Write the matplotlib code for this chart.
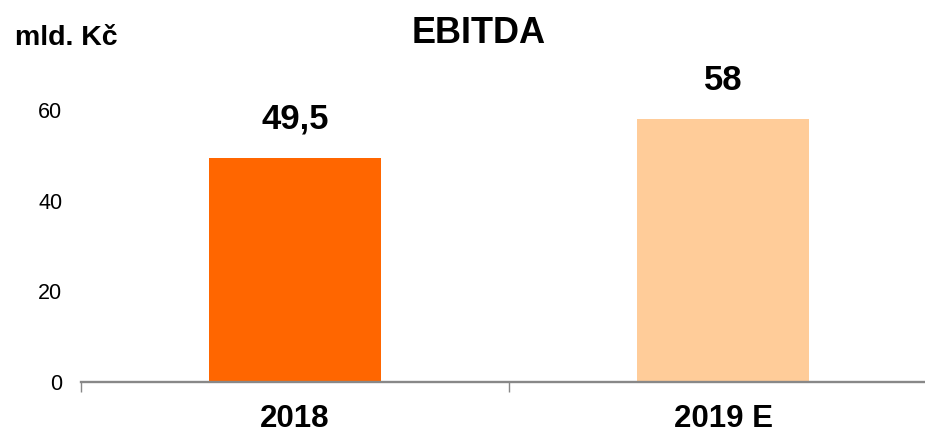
import matplotlib
matplotlib.use("Agg")
import matplotlib.pyplot as plt
from matplotlib.ticker import FixedLocator

plt.rcParams['font.family'] = ['Liberation Sans', 'DejaVu Sans']

categories = ["2018", "2019 E"]
values = [49.5, 58]
value_labels = ["49,5", "58"]
colors = ["#FF6600", "#FFCC99"]
yticks = [0, 20, 40, 60]
title = "EBITDA"
unit_label = "mld. Kč"

fig = plt.figure(figsize=(9.25, 4.34), dpi=100)
ax = fig.add_axes([81 / 925, 52 / 434, 856 / 925, 317.2 / 434])

x = list(range(len(categories)))
bars = ax.bar(x, values, width=0.4, color=colors, zorder=1)

for xi, v, lab in zip(x, values, value_labels):
    ax.annotate(lab, (xi, v), xytext=(0, 21), textcoords="offset points",
                ha="center", va="baseline", fontsize=25, fontweight="bold")

ax.set_xlim(-0.5, 1.5)
ax.set_ylim(0, 70)
ax.set_yticks(yticks)
ax.set_yticklabels([str(t) for t in yticks], fontsize=15.5)
ax.tick_params(axis="y", length=0, pad=13.5)

ax.set_xticks(x)
ax.set_xticklabels(categories, fontsize=22.5, fontweight="bold")
ax.tick_params(axis="x", which="major", length=0, pad=16)
ax.xaxis.set_minor_locator(FixedLocator([-0.5, 0.5, 1.5]))
ax.tick_params(axis="x", which="minor", length=7.5, width=1, color="#888888", direction="out")

for s in ["top", "right", "left"]:
    ax.spines[s].set_visible(False)
ax.spines["bottom"].set_color("#888888")
ax.spines["bottom"].set_linewidth(1.7)
ax.spines["bottom"].set_zorder(3)

fig.text(479 / 925, (434 - 43) / 434, title, ha="center", va="baseline",
         fontsize=26, fontweight="bold")
fig.text(15 / 925, (434 - 45) / 434, unit_label, ha="left", va="baseline",
         fontsize=20.5, fontweight="bold")

fig.savefig("out.png", dpi=100)
